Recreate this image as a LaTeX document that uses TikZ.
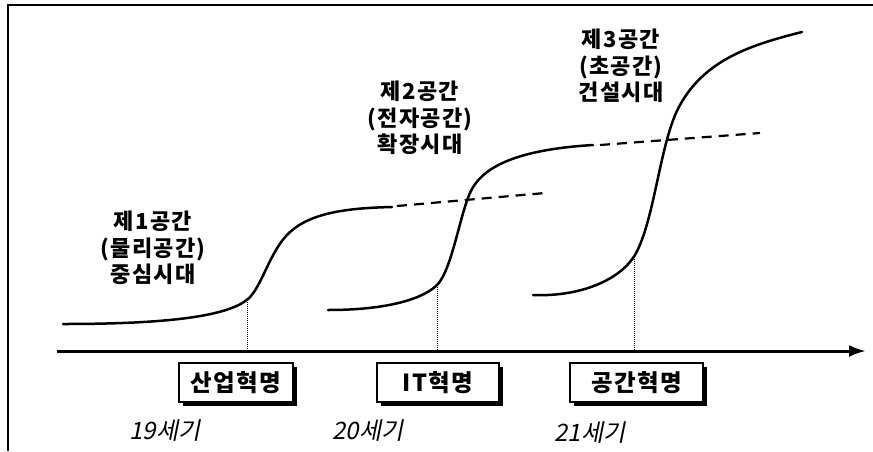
\documentclass[tikz,border=0pt]{standalone}
\usepackage{fontspec}
\newfontfamily\kr{Noto Sans CJK KR}
\newfontfamily\krsp{Noto Sans CJK KR}[LetterSpace=6]
\newfontfamily\krit{Noto Sans CJK KR}[FakeSlant=0.2]
\usetikzlibrary{arrows.meta,shadows}
\begin{document}
\begin{tikzpicture}[x=1pt,y=-1pt,
  curve/.style={line width=2.5pt, line cap=round},
  dashline/.style={line width=2.2pt, dash pattern=on 10pt off 7pt},
  dotline/.style={line width=0.9pt, dash pattern=on 1pt off 1pt},
  spacelabel/.style={align=center, font=\krsp\bfseries\fontsize{22}{26.5}\selectfont, inner sep=0pt},
  revbox/.style={draw, line width=1.3pt, fill=white, minimum height=39pt, inner sep=0pt,
    font=\krsp\bfseries\fontsize{23.5}{25}\selectfont,
    drop shadow={shadow xshift=3.5pt, shadow yshift=-3.5pt, fill=black, opacity=1}},
  century/.style={font=\krit\fontsize{24}{26}\selectfont, inner sep=0pt}]
\useasboundingbox (0,0) rectangle (873,451);
% frame
\draw[line width=1.5pt] (8,451) -- (8,5) -- (873,5);
% axis
\coordinate (axs) at (57,351);
\coordinate (axe) at (866,351);
\draw[line width=3pt, -{Latex[length=17pt,width=12pt]}] (axs) -- (axe);
% curve 1
\draw[curve] (63,324) .. controls (170,324) and (228,316) .. (248,299)
  .. controls (262,287) and (270,250) .. (290,232)
  .. controls (312,212) and (350,208) .. (392,207);
\coordinate (d1s) at (397,206);
\coordinate (d1e) at (545,193);
\draw[dashline] (d1s) -- (d1e);
% curve 2
\draw[curve] (328,310) .. controls (390,310) and (425,298) .. (438,284)
  .. controls (452,268) and (460,215) .. (470,193)
  .. controls (480,170) and (510,150) .. (593,145);
\coordinate (d2s) at (600,145);
\coordinate (d2e) at (760,133);
\draw[dashline] (d2s) -- (d2e);
% curve 3
\draw[curve] (533,295) .. controls (580,297) and (620,280) .. (635,255)
  .. controls (655,220) and (660,140) .. (680,105)
  .. controls (705,60) and (750,45) .. (802,32);
% dotted guides
\coordinate (p1) at (247,300);
\coordinate (q1) at (247,351);
\coordinate (p2) at (437,285);
\coordinate (q2) at (437,351);
\coordinate (p3) at (634,257);
\coordinate (q3) at (634,351);
\draw[dotline] (p1) -- (q1);
\draw[dotline] (p2) -- (q2);
\draw[dotline] (p3) -- (q3);
% labels
\node[spacelabel] (l1) at (153,248) {제1공간\\(물리공간)\\중심시대};
\node[spacelabel] (l2) at (420,118) {제2공간\\(전자공간)\\확장시대};
\node[spacelabel] (l3) at (621,66) {제3공간\\(초공간)\\건설시대};
% boxes
\node[revbox, minimum width=114pt] (b1) at (236,382.5) {산업혁명};
\node[revbox, minimum width=122pt] (b2) at (438,382.5) {IT혁명};
\node[revbox, minimum width=133pt] (b3) at (636.5,382.5) {공간혁명};
% centuries
\node[century] (c1) at (165,431) {19세기};
\node[century] (c2) at (368,431) {20세기};
\node[century] (c3) at (590,433) {21세기};
\end{tikzpicture}
\end{document}
